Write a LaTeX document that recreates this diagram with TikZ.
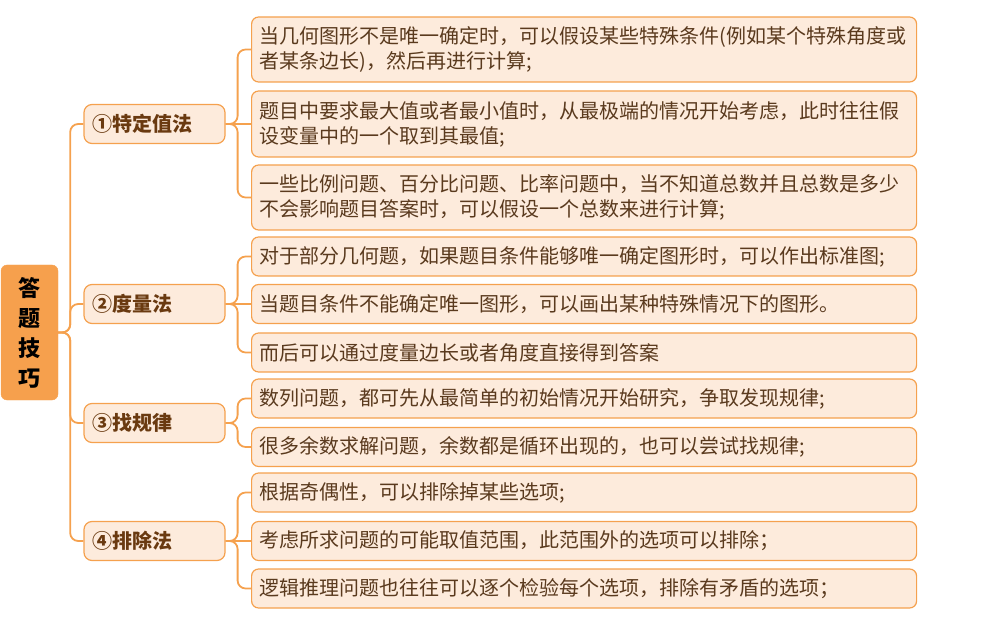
\documentclass[tikz,border=0pt]{standalone}
\usepackage{fontspec}
\setmainfont{Noto Sans CJK SC}
\definecolor{linkorange}{HTML}{F5A14E}
\definecolor{rootorange}{HTML}{F6A04D}
\definecolor{boxpeach}{HTML}{FDEBDC}
\definecolor{topicbrown}{HTML}{6A3A10}
\definecolor{leafbrown}{HTML}{5A3A1E}
\begin{document}
\begin{tikzpicture}[x=1pt,y=-1pt,
    root/.style={draw=rootorange,fill=rootorange,rounded corners=6pt,minimum width=57pt,
      minimum height=135pt,inner sep=0pt,align=center,font=\fontsize{22}{30}\selectfont\bfseries},
    topic/.style={draw=linkorange,fill=boxpeach,line width=1.2pt,rounded corners=8pt,
      text width=125pt,inner xsep=8pt,inner ysep=0pt,minimum height=39pt,align=left,
      text=topicbrown,font=\fontsize{20}{25}\selectfont\bfseries},
    leaf/.style={draw=linkorange,fill=boxpeach,line width=1.2pt,rounded corners=7pt,anchor=west,
      text width=649pt,inner xsep=8pt,inner ysep=0pt,minimum height=39pt,align=left,
      text=leafbrown,font=\fontsize{20}{25}\selectfont},
    link/.style={draw=linkorange,line width=1.8pt,rounded corners=8pt}]
    \useasboundingbox (0,0) rectangle (1004,636);

    % Root
    \node[root] (root) at (29.5,332.5) {答\\题\\技\\巧};

    % Topics
    \node[topic] (t1) at (154.5,124) {①特定值法};
    \node[topic] (t2) at (154.5,304) {②度量法};
    \node[topic] (t3) at (154.5,423) {③找规律};
    \node[topic] (t4) at (154.5,541) {④排除法};

    % Leaves
    \node[leaf,minimum height=65pt] (a1) at (251,49.5) {当几何图形不是唯一确定时，可以假设某些特殊条件(例如某个特殊角度或\\者某条边长)，然后再进行计算;};
    \node[leaf,minimum height=66pt] (a2) at (251,124) {题目中要求最大值或者最小值时，从最极端的情况开始考虑，此时往往假\\设变量中的一个取到其最值;};
    \node[leaf,minimum height=65pt] (a3) at (251,197.5) {一些比例问题、百分比问题、比率问题中，当不知道总数并且总数是多少\\不会影响题目答案时，可以假设一个总数来进行计算;};
    \node[leaf] (b1) at (251,256.5) {对于部分几何题，如果题目条件能够唯一确定图形时，可以作出标准图;};
    \node[leaf] (b2) at (251,304) {当题目条件不能确定唯一图形，可以画出某种特殊情况下的图形。};
    \node[leaf] (b3) at (251,352.5) {而后可以通过度量边长或者角度直接得到答案};
    \node[leaf] (c1) at (251,398.5) {数列问题，都可先从最简单的初始情况开始研究，争取发现规律;};
    \node[leaf] (c2) at (251,447) {很多余数求解问题，余数都是循环出现的，也可以尝试找规律;};
    \node[leaf] (d1) at (251,492.5) {根据奇偶性，可以排除掉某些选项;};
    \node[leaf] (d2) at (251,541) {考虑所求问题的可能取值范围，此范围外的选项可以排除；};
    \node[leaf] (d3) at (251,588.5) {逻辑推理问题也往往可以逐个检验每个选项，排除有矛盾的选项；};

    % Root links
    \draw[link] (root.east) -- ++(12,0) |- (t1.west);
    \draw[link] (root.east) -- ++(12,0) |- (t2.west);
    \draw[link] (root.east) -- ++(12,0) |- (t3.west);
    \draw[link] (root.east) -- ++(12,0) |- (t4.west);

    % Topic links
    \draw[link] (t1.east) -- ++(12,0) |- (a1.west);
    \draw[link] (t1.east) -- (a2.west);
    \draw[link] (t1.east) -- ++(12,0) |- (a3.west);
    \draw[link] (t2.east) -- ++(12,0) |- (b1.west);
    \draw[link] (t2.east) -- (b2.west);
    \draw[link] (t2.east) -- ++(12,0) |- (b3.west);
    \draw[link] (t3.east) -- ++(12,0) |- (c1.west);
    \draw[link] (t3.east) -- ++(12,0) |- (c2.west);
    \draw[link] (t4.east) -- ++(12,0) |- (d1.west);
    \draw[link] (t4.east) -- (d2.west);
    \draw[link] (t4.east) -- ++(12,0) |- (d3.west);

\end{tikzpicture}
\end{document}
